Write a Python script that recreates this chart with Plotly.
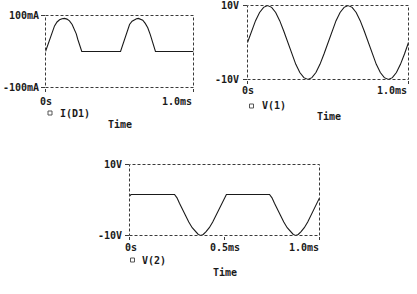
import plotly.graph_objects as go

W, H = 417, 294

# ---------------- data ----------------
# Plot 1: I(D1) in mA vs time in ms
t_i1 = [0, 0.013, 0.027, 0.044, 0.061, 0.078, 0.095, 0.112, 0.128, 0.145, 0.162, 0.18,
        0.196, 0.208, 0.218, 0.232, 0.245, 0.507, 0.52, 0.534, 0.551, 0.568, 0.585, 0.601,
        0.615, 0.628, 0.643, 0.657, 0.674, 0.691, 0.708, 0.725, 0.743, 1.0]
i_d1 = [0, 14, 29, 52, 71, 82, 88, 91, 92, 90, 85, 75,
        62, 49, 34, 16, 0, 0, 16, 34, 56, 75, 84, 89,
        91, 92, 90, 87, 78, 66, 47, 25, 0, 0]

# Plot 2: V(1) in V vs time in ms
t_v1 = [0, 0.025, 0.05, 0.075, 0.1, 0.125, 0.15, 0.175, 0.2, 0.225, 0.25,
        0.275, 0.3, 0.325, 0.35, 0.375, 0.4, 0.425, 0.45, 0.475, 0.5,
        0.525, 0.55, 0.575, 0.6, 0.625, 0.65, 0.675, 0.7, 0.725, 0.75,
        0.775, 0.8, 0.825, 0.85, 0.875, 0.9, 0.925, 0.95, 0.975, 1.0]
v1 = [0, 3.1, 5.9, 8.1, 9.5, 10, 9.5, 8.1, 5.9, 3.1, 0,
      -3.1, -5.9, -8.1, -9.5, -10, -9.5, -8.1, -5.9, -3.1, 0,
      3.1, 5.9, 8.1, 9.5, 10, 9.5, 8.1, 5.9, 3.1, 0,
      -3.1, -5.9, -8.1, -9.5, -10, -9.5, -8.1, -5.9, -3.1, 0]

# Plot 3: V(2) in V vs time in ms
t_v2 = [0, 0.008, 0.237, 0.25, 0.263, 0.277, 0.295, 0.312, 0.33, 0.347, 0.362, 0.375,
        0.388, 0.403, 0.42, 0.438, 0.455, 0.473, 0.487, 0.5, 0.51, 0.737, 0.75, 0.763,
        0.777, 0.795, 0.812, 0.83, 0.847, 0.862, 0.875, 0.888, 0.903, 0.92, 0.938,
        0.955, 0.973, 0.987, 1.0]
v2 = [1.1, 1.55, 1.55, 0.6, -0.9, -2.5, -4.4, -6.2, -7.8, -8.9, -9.7, -10,
      -9.7, -8.9, -7.8, -6.2, -4.4, -2.5, -0.9, 0.6, 1.55, 1.55, 0.6, -0.9,
      -2.5, -4.4, -6.2, -7.8, -8.9, -9.7, -10, -9.7, -8.9, -7.8, -6.2,
      -4.4, -2.5, -0.9, 0.6]

x_ticks_12 = [0, 1.0]
x_tick_labels_12 = ["0s", "1.0ms"]
x_ticks_3 = [0, 0.5, 1.0]
x_tick_labels_3 = ["0s", "0.5ms", "1.0ms"]
y_ticks_1 = [-100, 100]
y_tick_labels_1 = ["-100mA", "100mA"]
y_ticks_v = [-10, 10]
y_tick_labels_v = ["-10V", "10V"]
legend_names = ["I(D1)", "V(1)", "V(2)"]
x_title = "Time"

# ---------------- layout helpers ----------------
def px(x):
    return x / W

def py(y):
    return 1 - y / H

FONT = dict(family="DejaVu Sans Mono", size=10, color="#1a1a1a", weight="bold")
LINE = "#1a1a1a"
FRAME = "#3a3a3a"

# frames in pixels: left, right, top, bottom
frames = [
    (45.5, 193.5, 15.5, 87.5),
    (247.5, 408.5, 5.5, 79.5),
    (129.5, 319.5, 164.5, 235.5),
]

fig = go.Figure()
series = [(t_i1, i_d1), (t_v1, v1), (t_v2, v2)]
yranges = [[-100, 100], [-10, 10], [-10, 10]]
xtv = [x_ticks_12, x_ticks_12, x_ticks_3]
ytv = [y_ticks_1, y_ticks_v, y_ticks_v]

for k, ((t, v), (l, r, tp, b)) in enumerate(zip(series, frames)):
    n = "" if k == 0 else str(k + 1)
    fig.add_trace(go.Scatter(x=t, y=v, mode="lines",
                             line=dict(color=LINE, width=1.1),
                             xaxis="x" + n, yaxis="y" + n, showlegend=False,
                             hoverinfo="skip"))
    fig.layout["xaxis" + n] = dict(domain=[px(l), px(r)], range=[0, 1.0],
                                   anchor="y" + n, showgrid=False, zeroline=False,
                                   showline=False, ticks="outside", ticklen=3,
                                   tickwidth=1, tickcolor=FRAME,
                                   tickvals=xtv[k], showticklabels=False,
                                   fixedrange=True)
    fig.layout["yaxis" + n] = dict(domain=[py(b), py(tp)], range=yranges[k],
                                   anchor="x" + n, showgrid=False, zeroline=False,
                                   showline=False, ticks="outside", ticklen=4,
                                   tickwidth=1, tickcolor=FRAME,
                                   tickvals=ytv[k], showticklabels=False,
                                   fixedrange=True)
    # dashed frame
    fig.add_shape(type="rect", xref="paper", yref="paper",
                  x0=px(l), x1=px(r), y0=py(b), y1=py(tp),
                  line=dict(color=FRAME, width=1, dash="3px,2px"))

annotations = []

def ann(text, x, y, xanchor):
    annotations.append(dict(text=text, x=px(x), y=py(y), xref="paper", yref="paper",
                            xanchor=xanchor, yanchor="middle", showarrow=False,
                            font=FONT))

# y tick labels (right aligned)
ytl = [y_tick_labels_1, y_tick_labels_v, y_tick_labels_v]
ylab_right = [40.5, 241.5, 123.5]
for k, (l, r, tp, b) in enumerate(frames):
    ann(ytl[k][1], ylab_right[k], tp, "right")
    ann(ytl[k][0], ylab_right[k], b, "right")

# x tick labels
ann(x_tick_labels_12[0], 45.5, 101, "center")
ann(x_tick_labels_12[1], 194, 101, "right")
ann(x_tick_labels_12[0], 248.5, 90, "center")
ann(x_tick_labels_12[1], 409, 90, "right")
ann(x_tick_labels_3[0], 131, 247, "center")
ann(x_tick_labels_3[1], 224.5, 247, "center")
ann(x_tick_labels_3[2], 320.5, 247, "right")

# legends (square + name)
legend_pos = [(50, 113, 58), (251.5, 106, 259.5), (132.5, 260, 140)]
for name, (sx, sy, tx) in zip(legend_names, legend_pos):
    fig.add_shape(type="rect", xref="paper", yref="paper",
                  x0=px(sx - 2), x1=px(sx + 2), y0=py(sy + 2), y1=py(sy - 2),
                  line=dict(color="#555555", width=1))
    ann(name, tx, sy, "left")

# axis titles
ann(x_title, 119.5, 125, "center")
ann(x_title, 328.5, 116.5, "center")
ann(x_title, 225, 272, "center")

fig.update_layout(width=W, height=H, margin=dict(l=0, r=0, t=0, b=0),
                  paper_bgcolor="white", plot_bgcolor="white",
                  annotations=annotations, showlegend=False)

fig.write_html("out.html")
